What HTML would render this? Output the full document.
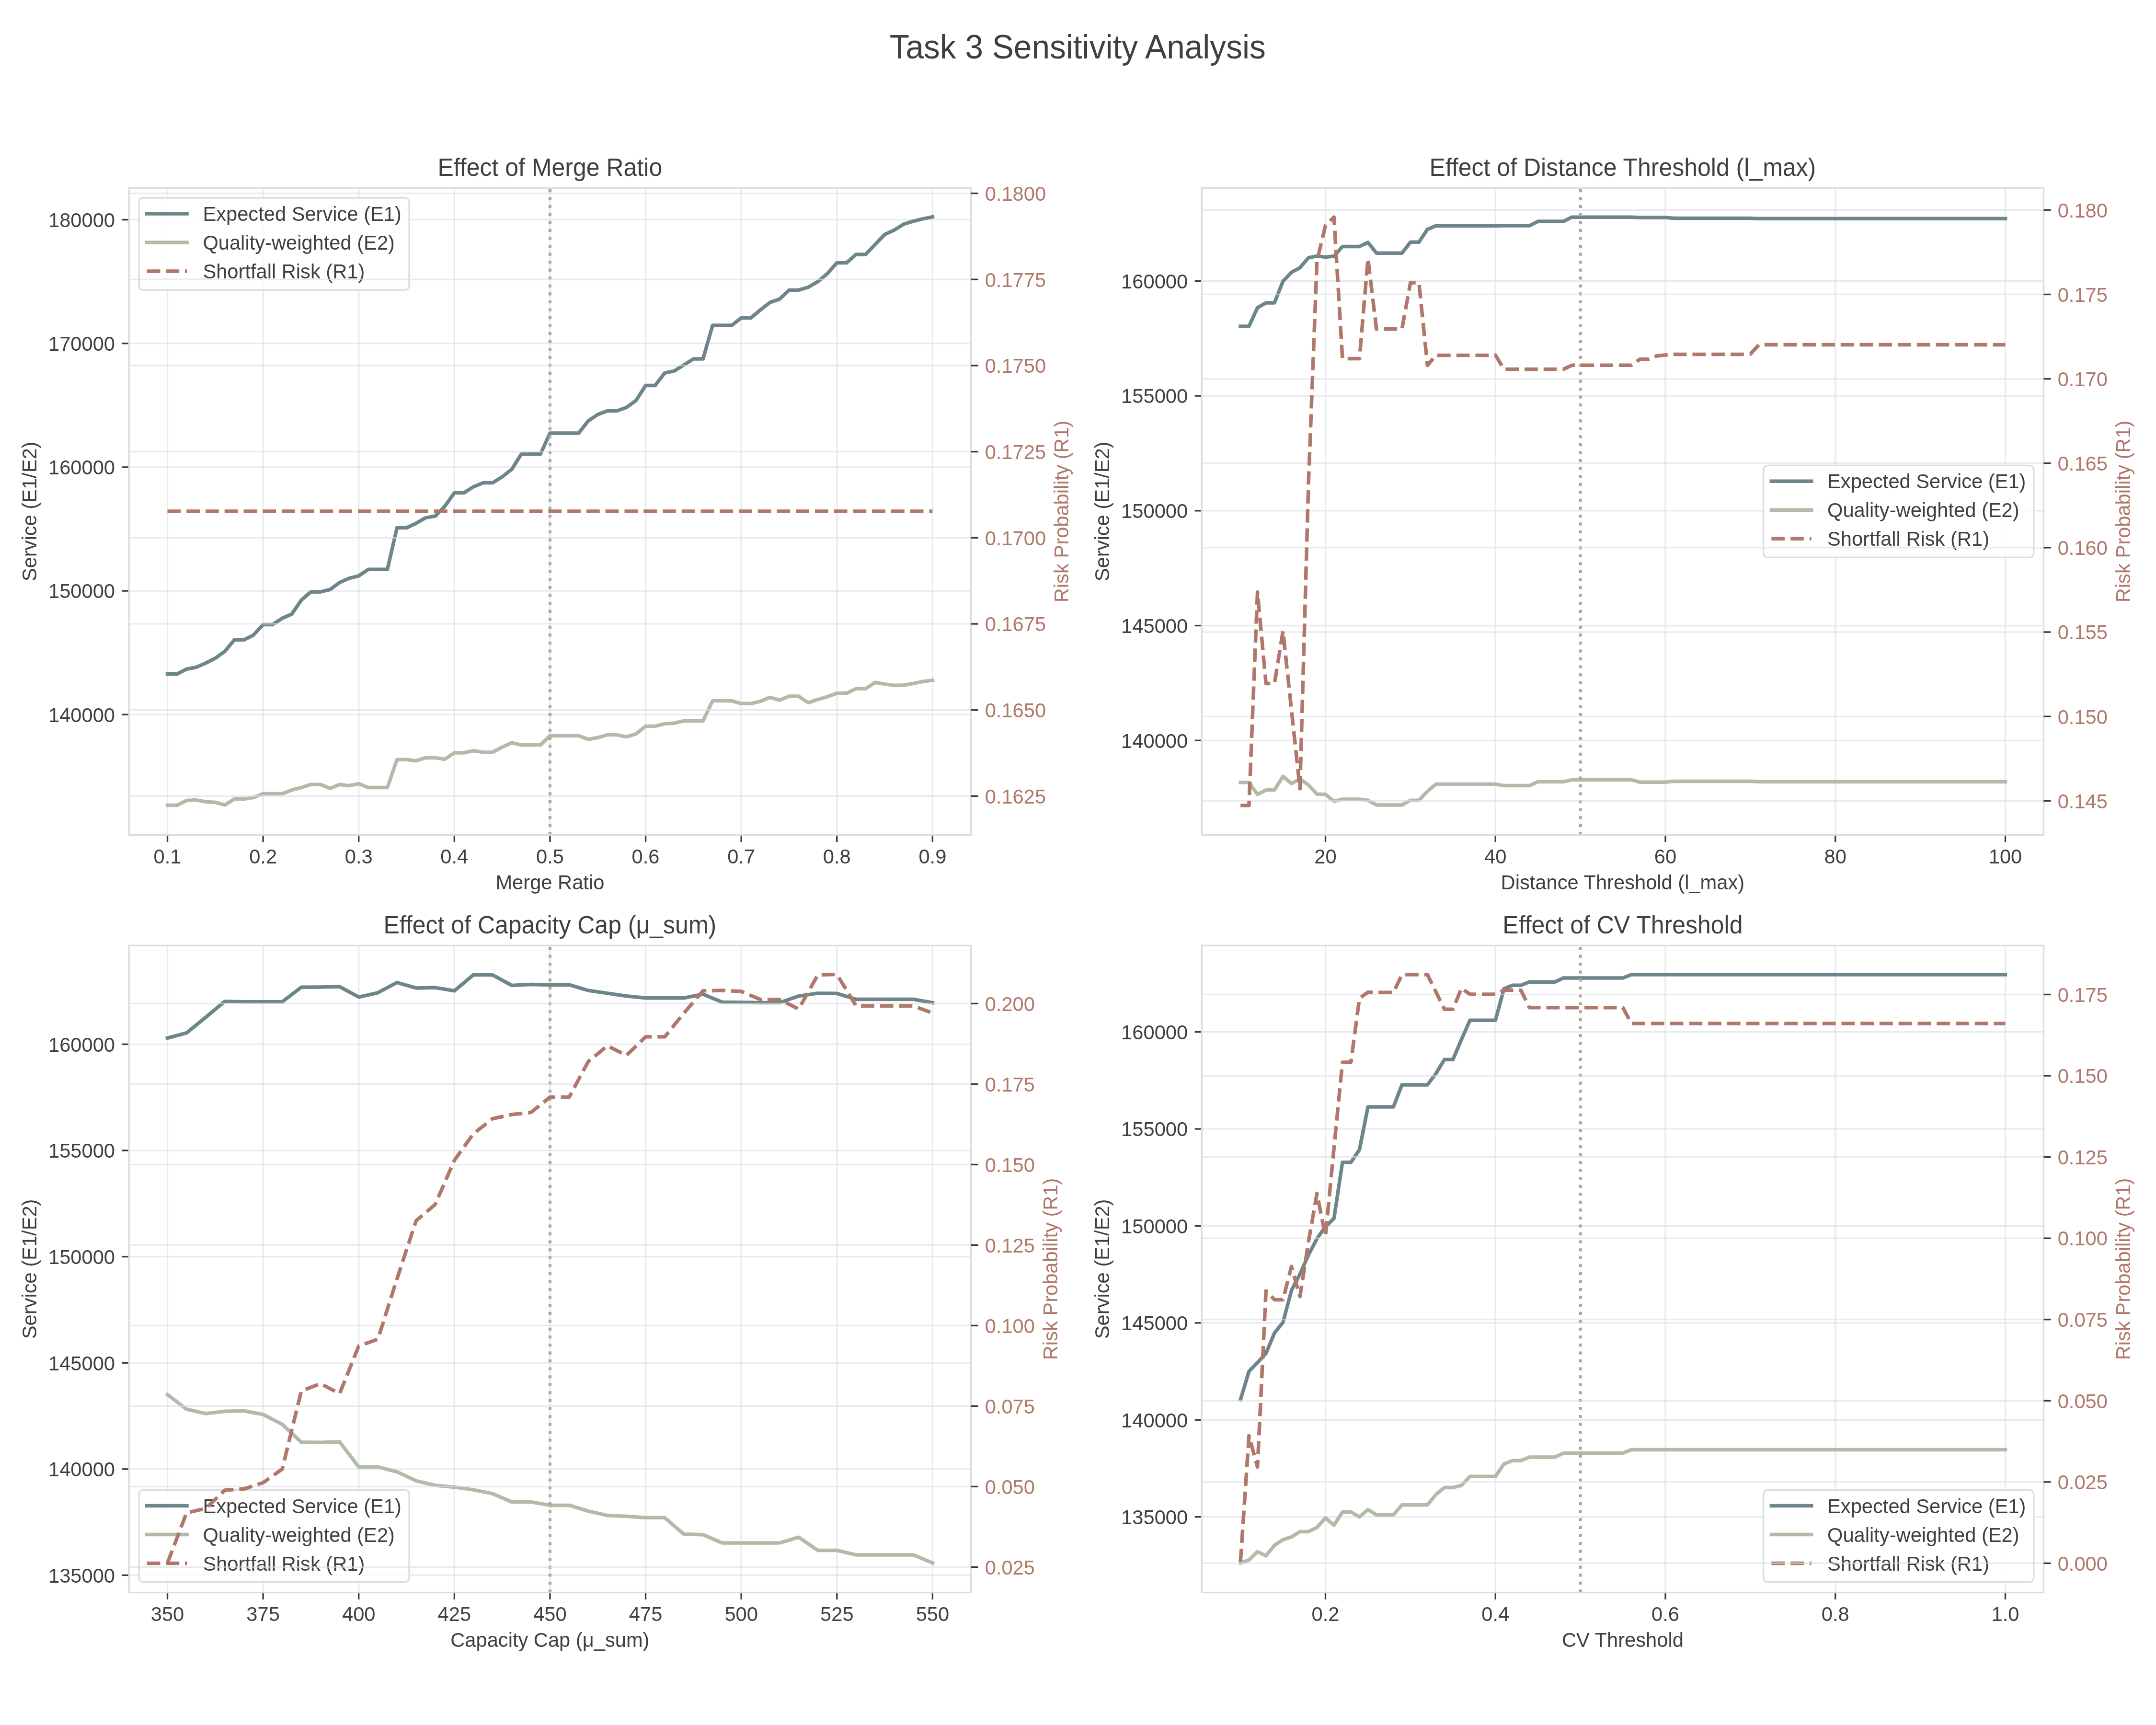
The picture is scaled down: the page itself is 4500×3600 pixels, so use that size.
<!DOCTYPE html>
<html><head><meta charset="utf-8"><style>html,body{margin:0;padding:0;background:#fff;}svg{display:block;will-change:transform;}</style></head><body>
<svg width="4500" height="3600" viewBox="0 0 4500 3600" font-family='"Liberation Sans", sans-serif'>
<rect width="4500" height="3600" fill="#ffffff"/>
<text transform="translate(2249.2,122) scale(1,1.04)" font-size="67.6" fill="#3f3f3f" text-anchor="middle">Task 3 Sensitivity Analysis</text>
<line x1="349.5" y1="392.2" x2="349.5" y2="1742.6" stroke="#D9DDE2" stroke-width="3.2" stroke-opacity="0.6"/>
<line x1="549.11" y1="392.2" x2="549.11" y2="1742.6" stroke="#D9DDE2" stroke-width="3.2" stroke-opacity="0.6"/>
<line x1="748.72" y1="392.2" x2="748.72" y2="1742.6" stroke="#D9DDE2" stroke-width="3.2" stroke-opacity="0.6"/>
<line x1="948.33" y1="392.2" x2="948.33" y2="1742.6" stroke="#D9DDE2" stroke-width="3.2" stroke-opacity="0.6"/>
<line x1="1147.94" y1="392.2" x2="1147.94" y2="1742.6" stroke="#D9DDE2" stroke-width="3.2" stroke-opacity="0.6"/>
<line x1="1347.55" y1="392.2" x2="1347.55" y2="1742.6" stroke="#D9DDE2" stroke-width="3.2" stroke-opacity="0.6"/>
<line x1="1547.16" y1="392.2" x2="1547.16" y2="1742.6" stroke="#D9DDE2" stroke-width="3.2" stroke-opacity="0.6"/>
<line x1="1746.77" y1="392.2" x2="1746.77" y2="1742.6" stroke="#D9DDE2" stroke-width="3.2" stroke-opacity="0.6"/>
<line x1="1946.38" y1="392.2" x2="1946.38" y2="1742.6" stroke="#D9DDE2" stroke-width="3.2" stroke-opacity="0.6"/>
<line x1="269.2" y1="1491.3" x2="2026.5" y2="1491.3" stroke="#D9DDE2" stroke-width="3.2" stroke-opacity="0.6"/>
<line x1="269.2" y1="1233.1" x2="2026.5" y2="1233.1" stroke="#D9DDE2" stroke-width="3.2" stroke-opacity="0.6"/>
<line x1="269.2" y1="974.9" x2="2026.5" y2="974.9" stroke="#D9DDE2" stroke-width="3.2" stroke-opacity="0.6"/>
<line x1="269.2" y1="716.7" x2="2026.5" y2="716.7" stroke="#D9DDE2" stroke-width="3.2" stroke-opacity="0.6"/>
<line x1="269.2" y1="458.5" x2="2026.5" y2="458.5" stroke="#D9DDE2" stroke-width="3.2" stroke-opacity="0.6"/>
<polyline points="349.5,1406.7 369.46,1406.7 389.42,1396.3 409.38,1392.7 429.34,1383.8 449.31,1373.7 469.27,1359.3 489.23,1335.3 509.19,1335.3 529.15,1325.3 549.11,1303.4 569.07,1303.4 589.03,1290.3 608.99,1281.5 628.95,1252.3 648.91,1235.2 668.88,1235.2 688.84,1230.4 708.8,1215.7 728.76,1206.8 748.72,1201.8 768.68,1188.3 788.64,1188.3 808.6,1188.3 828.56,1101.5 848.52,1101.5 868.49,1092.1 888.45,1080.6 908.41,1077.1 928.37,1056.6 948.33,1028.5 968.29,1028.5 988.25,1015.9 1008.21,1007.6 1028.17,1007.6 1048.14,995.1 1068.1,979.4 1088.06,947.7 1108.02,947.7 1127.98,947.7 1147.94,903.9 1167.9,903.9 1187.86,903.9 1207.82,903.9 1227.78,878.5 1247.75,864.9 1267.71,857.6 1287.67,857.6 1307.63,850.3 1327.59,835.7 1347.55,804.4 1367.51,804.4 1387.47,778.3 1407.43,774.1 1427.39,761.6 1447.36,749.1 1467.32,749.1 1487.28,679.1 1507.24,679.1 1527.2,679.1 1547.16,663.5 1567.12,663.5 1587.08,646.8 1607.04,631.1 1627,624.2 1646.96,605.5 1666.93,605.3 1686.89,599.5 1706.85,587.8 1726.81,571.1 1746.77,548.6 1766.73,548.6 1786.69,531 1806.65,531 1826.61,510.2 1846.57,489.3 1866.54,480.1 1886.5,467.6 1906.46,461.7 1926.42,456.7 1946.38,452.6" fill="none" stroke="#6D8689" stroke-width="7.5" stroke-linejoin="round" stroke-linecap="square"/>
<polyline points="349.5,1680.6 369.46,1680.6 389.42,1670.6 409.38,1669.6 429.34,1673.3 449.31,1674.4 469.27,1680 489.23,1667.5 509.19,1667.5 529.15,1664.4 549.11,1656.4 569.07,1656.4 589.03,1656.4 608.99,1648.7 628.95,1643.5 648.91,1637.2 668.88,1637.2 688.84,1645.2 708.8,1637.2 728.76,1639.7 748.72,1635.6 768.68,1643.6 788.64,1643.6 808.6,1643.6 828.56,1585.2 848.52,1585.2 868.49,1587.7 888.45,1581.4 908.41,1581.4 928.37,1584.5 948.33,1571 968.29,1571 988.25,1566.8 1008.21,1569.9 1028.17,1569.9 1048.14,1559.1 1068.1,1550.1 1088.06,1554.7 1108.02,1554.7 1127.98,1554.7 1147.94,1535.5 1167.9,1535.5 1187.86,1535.5 1207.82,1535.5 1227.78,1543 1247.75,1539.4 1267.71,1533.6 1287.67,1533.6 1307.63,1537.8 1327.59,1531.5 1347.55,1515.4 1367.51,1515.4 1387.47,1510.6 1407.43,1509.2 1427.39,1504.4 1447.36,1504.4 1467.32,1504.4 1487.28,1462.6 1507.24,1462.6 1527.2,1462.6 1547.16,1468.3 1567.12,1468.3 1587.08,1463.7 1607.04,1455.3 1627,1461.2 1646.96,1453 1666.93,1453.1 1686.89,1466.5 1706.85,1459.8 1726.81,1454 1746.77,1446.8 1766.73,1446.8 1786.69,1437.3 1806.65,1437.3 1826.61,1424.2 1846.57,1427.6 1866.54,1430.4 1886.5,1429.8 1906.46,1426.4 1926.42,1422.1 1946.38,1419.7" fill="none" stroke="#B1BBA9" stroke-width="7.5" stroke-linejoin="round" stroke-linecap="square"/>
<line x1="1147.94" y1="1742.6" x2="1147.94" y2="392.2" stroke="#ACA79F" stroke-width="6.25" stroke-dasharray="6.25 10.31"/>
<line x1="349.5" y1="1742.6" x2="349.5" y2="1757.18" stroke="#3a3a3a" stroke-width="3.33"/>
<text transform="translate(349.5,1801.7) scale(1,1.04)" font-size="41.67" fill="#3f3f3f" text-anchor="middle">0.1</text>
<line x1="549.11" y1="1742.6" x2="549.11" y2="1757.18" stroke="#3a3a3a" stroke-width="3.33"/>
<text transform="translate(549.11,1801.7) scale(1,1.04)" font-size="41.67" fill="#3f3f3f" text-anchor="middle">0.2</text>
<line x1="748.72" y1="1742.6" x2="748.72" y2="1757.18" stroke="#3a3a3a" stroke-width="3.33"/>
<text transform="translate(748.72,1801.7) scale(1,1.04)" font-size="41.67" fill="#3f3f3f" text-anchor="middle">0.3</text>
<line x1="948.33" y1="1742.6" x2="948.33" y2="1757.18" stroke="#3a3a3a" stroke-width="3.33"/>
<text transform="translate(948.33,1801.7) scale(1,1.04)" font-size="41.67" fill="#3f3f3f" text-anchor="middle">0.4</text>
<line x1="1147.94" y1="1742.6" x2="1147.94" y2="1757.18" stroke="#3a3a3a" stroke-width="3.33"/>
<text transform="translate(1147.94,1801.7) scale(1,1.04)" font-size="41.67" fill="#3f3f3f" text-anchor="middle">0.5</text>
<line x1="1347.55" y1="1742.6" x2="1347.55" y2="1757.18" stroke="#3a3a3a" stroke-width="3.33"/>
<text transform="translate(1347.55,1801.7) scale(1,1.04)" font-size="41.67" fill="#3f3f3f" text-anchor="middle">0.6</text>
<line x1="1547.16" y1="1742.6" x2="1547.16" y2="1757.18" stroke="#3a3a3a" stroke-width="3.33"/>
<text transform="translate(1547.16,1801.7) scale(1,1.04)" font-size="41.67" fill="#3f3f3f" text-anchor="middle">0.7</text>
<line x1="1746.77" y1="1742.6" x2="1746.77" y2="1757.18" stroke="#3a3a3a" stroke-width="3.33"/>
<text transform="translate(1746.77,1801.7) scale(1,1.04)" font-size="41.67" fill="#3f3f3f" text-anchor="middle">0.8</text>
<line x1="1946.38" y1="1742.6" x2="1946.38" y2="1757.18" stroke="#3a3a3a" stroke-width="3.33"/>
<text transform="translate(1946.38,1801.7) scale(1,1.04)" font-size="41.67" fill="#3f3f3f" text-anchor="middle">0.9</text>
<line x1="254.62" y1="1491.3" x2="269.2" y2="1491.3" stroke="#3a3a3a" stroke-width="3.33"/>
<text transform="translate(240.04,1506.6) scale(1,1.04)" font-size="41.67" fill="#3f3f3f" text-anchor="end">140000</text>
<line x1="254.62" y1="1233.1" x2="269.2" y2="1233.1" stroke="#3a3a3a" stroke-width="3.33"/>
<text transform="translate(240.04,1248.4) scale(1,1.04)" font-size="41.67" fill="#3f3f3f" text-anchor="end">150000</text>
<line x1="254.62" y1="974.9" x2="269.2" y2="974.9" stroke="#3a3a3a" stroke-width="3.33"/>
<text transform="translate(240.04,990.2) scale(1,1.04)" font-size="41.67" fill="#3f3f3f" text-anchor="end">160000</text>
<line x1="254.62" y1="716.7" x2="269.2" y2="716.7" stroke="#3a3a3a" stroke-width="3.33"/>
<text transform="translate(240.04,732) scale(1,1.04)" font-size="41.67" fill="#3f3f3f" text-anchor="end">170000</text>
<line x1="254.62" y1="458.5" x2="269.2" y2="458.5" stroke="#3a3a3a" stroke-width="3.33"/>
<text transform="translate(240.04,473.8) scale(1,1.04)" font-size="41.67" fill="#3f3f3f" text-anchor="end">180000</text>
<text transform="translate(1147.85,1855.7) scale(1,1.04)" font-size="41.67" fill="#3f3f3f" text-anchor="middle">Merge Ratio</text>
<text transform="translate(75.9,1067.4) rotate(-90) scale(1,1.04)" font-size="41.67" fill="#3f3f3f" text-anchor="middle">Service (E1/E2)</text>
<text transform="translate(2229.74,1067.4) rotate(-90) scale(1,1.04)" font-size="41.67" fill="#B0786A" text-anchor="middle">Risk Probability (R1)</text>
<text transform="translate(1147.85,366.8) scale(1,1.04)" font-size="50" fill="#3f3f3f" text-anchor="middle">Effect of Merge Ratio</text>
<rect x="290.05" y="413" width="564" height="192" rx="8.33" ry="8.33" fill="#ffffff" fill-opacity="0.8" stroke="#D9DDE2" stroke-width="3.33"/>
<polyline points="306.72,445.9 390.05,445.9" fill="none" stroke="#6D8689" stroke-width="7.5" stroke-linejoin="round" stroke-linecap="square"/>
<text transform="translate(423.38,460.9) scale(1,1.04)" font-size="41.67" fill="#3f3f3f" text-anchor="start">Expected Service (E1)</text>
<polyline points="306.72,505.9 390.05,505.9" fill="none" stroke="#B1BBA9" stroke-width="7.5" stroke-linejoin="round" stroke-linecap="square"/>
<text transform="translate(423.38,520.9) scale(1,1.04)" font-size="41.67" fill="#3f3f3f" text-anchor="start">Quality-weighted (E2)</text>
<polyline points="306.72,565.9 390.05,565.9" fill="none" stroke="#B0786A" stroke-width="7.5" stroke-linejoin="round" stroke-linecap="butt" stroke-dasharray="27.75 12"/>
<text transform="translate(423.38,580.9) scale(1,1.04)" font-size="41.67" fill="#3f3f3f" text-anchor="start">Shortfall Risk (R1)</text>
<line x1="269.2" y1="1661.4" x2="2026.5" y2="1661.4" stroke="#D9DDE2" stroke-width="3.2" stroke-opacity="0.6"/>
<line x1="269.2" y1="1481.7" x2="2026.5" y2="1481.7" stroke="#D9DDE2" stroke-width="3.2" stroke-opacity="0.6"/>
<line x1="269.2" y1="1302" x2="2026.5" y2="1302" stroke="#D9DDE2" stroke-width="3.2" stroke-opacity="0.6"/>
<line x1="269.2" y1="1122.3" x2="2026.5" y2="1122.3" stroke="#D9DDE2" stroke-width="3.2" stroke-opacity="0.6"/>
<line x1="269.2" y1="942.6" x2="2026.5" y2="942.6" stroke="#D9DDE2" stroke-width="3.2" stroke-opacity="0.6"/>
<line x1="269.2" y1="762.9" x2="2026.5" y2="762.9" stroke="#D9DDE2" stroke-width="3.2" stroke-opacity="0.6"/>
<line x1="269.2" y1="583.2" x2="2026.5" y2="583.2" stroke="#D9DDE2" stroke-width="3.2" stroke-opacity="0.6"/>
<line x1="269.2" y1="403.5" x2="2026.5" y2="403.5" stroke="#D9DDE2" stroke-width="3.2" stroke-opacity="0.6"/>
<polyline points="349.5,1067.1 369.46,1067.1 389.42,1067.1 409.38,1067.1 429.34,1067.1 449.31,1067.1 469.27,1067.1 489.23,1067.1 509.19,1067.1 529.15,1067.1 549.11,1067.1 569.07,1067.1 589.03,1067.1 608.99,1067.1 628.95,1067.1 648.91,1067.1 668.88,1067.1 688.84,1067.1 708.8,1067.1 728.76,1067.1 748.72,1067.1 768.68,1067.1 788.64,1067.1 808.6,1067.1 828.56,1067.1 848.52,1067.1 868.49,1067.1 888.45,1067.1 908.41,1067.1 928.37,1067.1 948.33,1067.1 968.29,1067.1 988.25,1067.1 1008.21,1067.1 1028.17,1067.1 1048.14,1067.1 1068.1,1067.1 1088.06,1067.1 1108.02,1067.1 1127.98,1067.1 1147.94,1067.1 1167.9,1067.1 1187.86,1067.1 1207.82,1067.1 1227.78,1067.1 1247.75,1067.1 1267.71,1067.1 1287.67,1067.1 1307.63,1067.1 1327.59,1067.1 1347.55,1067.1 1367.51,1067.1 1387.47,1067.1 1407.43,1067.1 1427.39,1067.1 1447.36,1067.1 1467.32,1067.1 1487.28,1067.1 1507.24,1067.1 1527.2,1067.1 1547.16,1067.1 1567.12,1067.1 1587.08,1067.1 1607.04,1067.1 1627,1067.1 1646.96,1067.1 1666.93,1067.1 1686.89,1067.1 1706.85,1067.1 1726.81,1067.1 1746.77,1067.1 1766.73,1067.1 1786.69,1067.1 1806.65,1067.1 1826.61,1067.1 1846.57,1067.1 1866.54,1067.1 1886.5,1067.1 1906.46,1067.1 1926.42,1067.1 1946.38,1067.1" fill="none" stroke="#B0786A" stroke-width="7.5" stroke-linejoin="round" stroke-linecap="butt" stroke-dasharray="27.75 12"/>
<rect x="269.2" y="392.2" width="1757.3" height="1350.4" fill="none" stroke="#D9DDE2" stroke-width="3.33"/>
<line x1="2026.5" y1="1661.4" x2="2041.58" y2="1661.4" stroke="#3a3a3a" stroke-width="3.33"/>
<text transform="translate(2055.66,1676.7) scale(1,1.04)" font-size="41.67" fill="#B0786A" text-anchor="start">0.1625</text>
<line x1="2026.5" y1="1481.7" x2="2041.58" y2="1481.7" stroke="#3a3a3a" stroke-width="3.33"/>
<text transform="translate(2055.66,1497) scale(1,1.04)" font-size="41.67" fill="#B0786A" text-anchor="start">0.1650</text>
<line x1="2026.5" y1="1302" x2="2041.58" y2="1302" stroke="#3a3a3a" stroke-width="3.33"/>
<text transform="translate(2055.66,1317.3) scale(1,1.04)" font-size="41.67" fill="#B0786A" text-anchor="start">0.1675</text>
<line x1="2026.5" y1="1122.3" x2="2041.58" y2="1122.3" stroke="#3a3a3a" stroke-width="3.33"/>
<text transform="translate(2055.66,1137.6) scale(1,1.04)" font-size="41.67" fill="#B0786A" text-anchor="start">0.1700</text>
<line x1="2026.5" y1="942.6" x2="2041.58" y2="942.6" stroke="#3a3a3a" stroke-width="3.33"/>
<text transform="translate(2055.66,957.9) scale(1,1.04)" font-size="41.67" fill="#B0786A" text-anchor="start">0.1725</text>
<line x1="2026.5" y1="762.9" x2="2041.58" y2="762.9" stroke="#3a3a3a" stroke-width="3.33"/>
<text transform="translate(2055.66,778.2) scale(1,1.04)" font-size="41.67" fill="#B0786A" text-anchor="start">0.1750</text>
<line x1="2026.5" y1="583.2" x2="2041.58" y2="583.2" stroke="#3a3a3a" stroke-width="3.33"/>
<text transform="translate(2055.66,598.5) scale(1,1.04)" font-size="41.67" fill="#B0786A" text-anchor="start">0.1775</text>
<line x1="2026.5" y1="403.5" x2="2041.58" y2="403.5" stroke="#3a3a3a" stroke-width="3.33"/>
<text transform="translate(2055.66,418.8) scale(1,1.04)" font-size="41.67" fill="#B0786A" text-anchor="start">0.1800</text>
<line x1="2766.5" y1="392.2" x2="2766.5" y2="1742.6" stroke="#D9DDE2" stroke-width="3.2" stroke-opacity="0.6"/>
<line x1="3121.25" y1="392.2" x2="3121.25" y2="1742.6" stroke="#D9DDE2" stroke-width="3.2" stroke-opacity="0.6"/>
<line x1="3476" y1="392.2" x2="3476" y2="1742.6" stroke="#D9DDE2" stroke-width="3.2" stroke-opacity="0.6"/>
<line x1="3830.75" y1="392.2" x2="3830.75" y2="1742.6" stroke="#D9DDE2" stroke-width="3.2" stroke-opacity="0.6"/>
<line x1="4185.5" y1="392.2" x2="4185.5" y2="1742.6" stroke="#D9DDE2" stroke-width="3.2" stroke-opacity="0.6"/>
<line x1="2508.3" y1="1545.3" x2="4265.5" y2="1545.3" stroke="#D9DDE2" stroke-width="3.2" stroke-opacity="0.6"/>
<line x1="2508.3" y1="1305.57" x2="4265.5" y2="1305.57" stroke="#D9DDE2" stroke-width="3.2" stroke-opacity="0.6"/>
<line x1="2508.3" y1="1065.85" x2="4265.5" y2="1065.85" stroke="#D9DDE2" stroke-width="3.2" stroke-opacity="0.6"/>
<line x1="2508.3" y1="826.12" x2="4265.5" y2="826.12" stroke="#D9DDE2" stroke-width="3.2" stroke-opacity="0.6"/>
<line x1="2508.3" y1="586.4" x2="4265.5" y2="586.4" stroke="#D9DDE2" stroke-width="3.2" stroke-opacity="0.6"/>
<polyline points="2589.12,680.9 2606.86,680.9 2624.6,642.3 2642.34,631.9 2660.07,631.9 2677.81,587 2695.55,568.2 2713.29,558.8 2731.03,537.9 2748.76,534.4 2766.5,536.5 2784.24,534.8 2801.97,514.5 2819.71,514.5 2837.45,514.5 2855.19,505.8 2872.93,528.3 2890.66,528.3 2908.4,528.3 2926.14,528.3 2943.88,505.3 2961.61,505.3 2979.35,478.7 2997.09,471.2 3014.82,471.2 3032.56,471.2 3050.3,471.2 3068.04,471.2 3085.78,471.2 3103.51,471.2 3121.25,471.3 3138.99,471 3156.72,471 3174.46,471 3192.2,471 3209.94,462.1 3227.68,462.1 3245.41,462.1 3263.15,462.1 3280.89,453.2 3298.62,453.2 3316.36,453.2 3334.1,453.2 3351.84,453.2 3369.57,453.2 3387.31,453.2 3405.05,453.2 3422.79,453.9 3440.53,453.9 3458.26,453.9 3476,453.9 3493.74,455.5 3511.47,455.5 3529.21,455.5 3546.95,455.5 3564.69,455.5 3582.43,455.5 3600.16,455.5 3617.9,455.5 3635.64,455.5 3653.38,455.5 3671.11,456.2 3688.85,456.2 3706.59,456.2 3724.32,456.2 3742.06,456.2 3759.8,456.2 3777.54,456.2 3795.28,456.2 3813.01,456.2 3830.75,456.2 3848.49,456.2 3866.23,456.2 3883.96,456.2 3901.7,456.2 3919.44,456.2 3937.18,456.2 3954.91,456.2 3972.65,456.2 3990.39,456.2 4008.12,456.2 4025.86,456.2 4043.6,456.2 4061.34,456.2 4079.07,456.2 4096.81,456.2 4114.55,456.2 4132.29,456.2 4150.02,456.2 4167.76,456.2 4185.5,456.2" fill="none" stroke="#6D8689" stroke-width="7.5" stroke-linejoin="round" stroke-linecap="square"/>
<polyline points="2589.12,1633.1 2606.86,1633.1 2624.6,1657.8 2642.34,1648.8 2660.07,1648.8 2677.81,1620.2 2695.55,1635.2 2713.29,1625.6 2731.03,1638.2 2748.76,1657.2 2766.5,1657.7 2784.24,1672.2 2801.97,1667.9 2819.71,1667.9 2837.45,1667.9 2855.19,1670.2 2872.93,1679.9 2890.66,1679.9 2908.4,1679.9 2926.14,1679.9 2943.88,1670.2 2961.61,1670.2 2979.35,1651.3 2997.09,1636.5 3014.82,1636.5 3032.56,1636.5 3050.3,1636.5 3068.04,1636.5 3085.78,1636.5 3103.51,1636.5 3121.25,1636.5 3138.99,1639.6 3156.72,1639.6 3174.46,1639.6 3192.2,1639.6 3209.94,1631.4 3227.68,1631.4 3245.41,1631.4 3263.15,1631.4 3280.89,1627.6 3298.62,1627.4 3316.36,1627.4 3334.1,1627.4 3351.84,1627.4 3369.57,1627.4 3387.31,1627.4 3405.05,1627.4 3422.79,1632.3 3440.53,1632.3 3458.26,1632.3 3476,1632.3 3493.74,1630.5 3511.47,1630.5 3529.21,1630.5 3546.95,1630.5 3564.69,1630.5 3582.43,1630.5 3600.16,1630.5 3617.9,1630.5 3635.64,1630.5 3653.38,1630.5 3671.11,1631.5 3688.85,1631.5 3706.59,1631.5 3724.32,1631.5 3742.06,1631.5 3759.8,1631.5 3777.54,1631.5 3795.28,1631.5 3813.01,1631.5 3830.75,1631.5 3848.49,1631.5 3866.23,1631.5 3883.96,1631.5 3901.7,1631.5 3919.44,1631.5 3937.18,1631.5 3954.91,1631.5 3972.65,1631.5 3990.39,1631.5 4008.12,1631.5 4025.86,1631.5 4043.6,1631.5 4061.34,1631.5 4079.07,1631.5 4096.81,1631.5 4114.55,1631.5 4132.29,1631.5 4150.02,1631.5 4167.76,1631.5 4185.5,1631.5" fill="none" stroke="#B1BBA9" stroke-width="7.5" stroke-linejoin="round" stroke-linecap="square"/>
<line x1="3298.62" y1="1742.6" x2="3298.62" y2="392.2" stroke="#ACA79F" stroke-width="6.25" stroke-dasharray="6.25 10.31"/>
<line x1="2766.5" y1="1742.6" x2="2766.5" y2="1757.18" stroke="#3a3a3a" stroke-width="3.33"/>
<text transform="translate(2766.5,1801.7) scale(1,1.04)" font-size="41.67" fill="#3f3f3f" text-anchor="middle">20</text>
<line x1="3121.25" y1="1742.6" x2="3121.25" y2="1757.18" stroke="#3a3a3a" stroke-width="3.33"/>
<text transform="translate(3121.25,1801.7) scale(1,1.04)" font-size="41.67" fill="#3f3f3f" text-anchor="middle">40</text>
<line x1="3476" y1="1742.6" x2="3476" y2="1757.18" stroke="#3a3a3a" stroke-width="3.33"/>
<text transform="translate(3476,1801.7) scale(1,1.04)" font-size="41.67" fill="#3f3f3f" text-anchor="middle">60</text>
<line x1="3830.75" y1="1742.6" x2="3830.75" y2="1757.18" stroke="#3a3a3a" stroke-width="3.33"/>
<text transform="translate(3830.75,1801.7) scale(1,1.04)" font-size="41.67" fill="#3f3f3f" text-anchor="middle">80</text>
<line x1="4185.5" y1="1742.6" x2="4185.5" y2="1757.18" stroke="#3a3a3a" stroke-width="3.33"/>
<text transform="translate(4185.5,1801.7) scale(1,1.04)" font-size="41.67" fill="#3f3f3f" text-anchor="middle">100</text>
<line x1="2493.72" y1="1545.3" x2="2508.3" y2="1545.3" stroke="#3a3a3a" stroke-width="3.33"/>
<text transform="translate(2479.14,1560.6) scale(1,1.04)" font-size="41.67" fill="#3f3f3f" text-anchor="end">140000</text>
<line x1="2493.72" y1="1305.57" x2="2508.3" y2="1305.57" stroke="#3a3a3a" stroke-width="3.33"/>
<text transform="translate(2479.14,1320.87) scale(1,1.04)" font-size="41.67" fill="#3f3f3f" text-anchor="end">145000</text>
<line x1="2493.72" y1="1065.85" x2="2508.3" y2="1065.85" stroke="#3a3a3a" stroke-width="3.33"/>
<text transform="translate(2479.14,1081.15) scale(1,1.04)" font-size="41.67" fill="#3f3f3f" text-anchor="end">150000</text>
<line x1="2493.72" y1="826.12" x2="2508.3" y2="826.12" stroke="#3a3a3a" stroke-width="3.33"/>
<text transform="translate(2479.14,841.42) scale(1,1.04)" font-size="41.67" fill="#3f3f3f" text-anchor="end">155000</text>
<line x1="2493.72" y1="586.4" x2="2508.3" y2="586.4" stroke="#3a3a3a" stroke-width="3.33"/>
<text transform="translate(2479.14,601.7) scale(1,1.04)" font-size="41.67" fill="#3f3f3f" text-anchor="end">160000</text>
<text transform="translate(3386.9,1855.7) scale(1,1.04)" font-size="41.67" fill="#3f3f3f" text-anchor="middle">Distance Threshold (l_max)</text>
<text transform="translate(2315,1067.4) rotate(-90) scale(1,1.04)" font-size="41.67" fill="#3f3f3f" text-anchor="middle">Service (E1/E2)</text>
<text transform="translate(4445.59,1067.4) rotate(-90) scale(1,1.04)" font-size="41.67" fill="#B0786A" text-anchor="middle">Risk Probability (R1)</text>
<text transform="translate(3386.9,366.8) scale(1,1.04)" font-size="50" fill="#3f3f3f" text-anchor="middle">Effect of Distance Threshold (l_max)</text>
<rect x="3680.7" y="971.4" width="564" height="192" rx="8.33" ry="8.33" fill="#ffffff" fill-opacity="0.8" stroke="#D9DDE2" stroke-width="3.33"/>
<polyline points="3697.37,1004.3 3780.7,1004.3" fill="none" stroke="#6D8689" stroke-width="7.5" stroke-linejoin="round" stroke-linecap="square"/>
<text transform="translate(3814.03,1019.3) scale(1,1.04)" font-size="41.67" fill="#3f3f3f" text-anchor="start">Expected Service (E1)</text>
<polyline points="3697.37,1064.3 3780.7,1064.3" fill="none" stroke="#B1BBA9" stroke-width="7.5" stroke-linejoin="round" stroke-linecap="square"/>
<text transform="translate(3814.03,1079.3) scale(1,1.04)" font-size="41.67" fill="#3f3f3f" text-anchor="start">Quality-weighted (E2)</text>
<polyline points="3697.37,1124.3 3780.7,1124.3" fill="none" stroke="#B0786A" stroke-width="7.5" stroke-linejoin="round" stroke-linecap="butt" stroke-dasharray="27.75 12"/>
<text transform="translate(3814.03,1139.3) scale(1,1.04)" font-size="41.67" fill="#3f3f3f" text-anchor="start">Shortfall Risk (R1)</text>
<line x1="2508.3" y1="1671.4" x2="4265.5" y2="1671.4" stroke="#D9DDE2" stroke-width="3.2" stroke-opacity="0.6"/>
<line x1="2508.3" y1="1495.24" x2="4265.5" y2="1495.24" stroke="#D9DDE2" stroke-width="3.2" stroke-opacity="0.6"/>
<line x1="2508.3" y1="1319.09" x2="4265.5" y2="1319.09" stroke="#D9DDE2" stroke-width="3.2" stroke-opacity="0.6"/>
<line x1="2508.3" y1="1142.93" x2="4265.5" y2="1142.93" stroke="#D9DDE2" stroke-width="3.2" stroke-opacity="0.6"/>
<line x1="2508.3" y1="966.77" x2="4265.5" y2="966.77" stroke="#D9DDE2" stroke-width="3.2" stroke-opacity="0.6"/>
<line x1="2508.3" y1="790.61" x2="4265.5" y2="790.61" stroke="#D9DDE2" stroke-width="3.2" stroke-opacity="0.6"/>
<line x1="2508.3" y1="614.46" x2="4265.5" y2="614.46" stroke="#D9DDE2" stroke-width="3.2" stroke-opacity="0.6"/>
<line x1="2508.3" y1="438.3" x2="4265.5" y2="438.3" stroke="#D9DDE2" stroke-width="3.2" stroke-opacity="0.6"/>
<polyline points="2589.12,1681 2606.86,1681 2624.6,1235.8 2642.34,1426.5 2660.07,1426.5 2677.81,1317 2695.55,1481.5 2713.29,1645.8 2731.03,1010 2748.76,544.4 2766.5,470.9 2784.24,453.2 2801.97,748.5 2819.71,748.5 2837.45,748.5 2855.19,539.8 2872.93,686.7 2890.66,686.7 2908.4,686.7 2926.14,686.7 2943.88,589.9 2961.61,589.9 2979.35,762.5 2997.09,741.6 3014.82,741.6 3032.56,741.6 3050.3,741.6 3068.04,741.6 3085.78,741.6 3103.51,741.6 3121.25,741 3138.99,770.5 3156.72,770.5 3174.46,770.5 3192.2,770.5 3209.94,770.5 3227.68,770.5 3245.41,770.5 3263.15,770.5 3280.89,762.3 3298.62,762.3 3316.36,762.3 3334.1,762.3 3351.84,762.3 3369.57,762.3 3387.31,762.3 3405.05,762.3 3422.79,749.6 3440.53,749.6 3458.26,742.7 3476,740.9 3493.74,739.4 3511.47,739.4 3529.21,739.4 3546.95,739.4 3564.69,739.4 3582.43,739.4 3600.16,739.4 3617.9,739.4 3635.64,739.4 3653.38,739 3671.11,719.4 3688.85,719.4 3706.59,719.4 3724.32,719.4 3742.06,719.4 3759.8,719.4 3777.54,719.4 3795.28,719.4 3813.01,719.4 3830.75,719.4 3848.49,719.4 3866.23,719.4 3883.96,719.4 3901.7,719.4 3919.44,719.4 3937.18,719.4 3954.91,719.4 3972.65,719.4 3990.39,719.4 4008.12,719.4 4025.86,719.4 4043.6,719.4 4061.34,719.4 4079.07,719.4 4096.81,719.4 4114.55,719.4 4132.29,719.4 4150.02,719.4 4167.76,719.4 4185.5,719.4" fill="none" stroke="#B0786A" stroke-width="7.5" stroke-linejoin="round" stroke-linecap="butt" stroke-dasharray="27.75 12"/>
<rect x="2508.3" y="392.2" width="1757.2" height="1350.4" fill="none" stroke="#D9DDE2" stroke-width="3.33"/>
<line x1="4265.5" y1="1671.4" x2="4280.58" y2="1671.4" stroke="#3a3a3a" stroke-width="3.33"/>
<text transform="translate(4294.66,1686.7) scale(1,1.04)" font-size="41.67" fill="#B0786A" text-anchor="start">0.145</text>
<line x1="4265.5" y1="1495.24" x2="4280.58" y2="1495.24" stroke="#3a3a3a" stroke-width="3.33"/>
<text transform="translate(4294.66,1510.54) scale(1,1.04)" font-size="41.67" fill="#B0786A" text-anchor="start">0.150</text>
<line x1="4265.5" y1="1319.09" x2="4280.58" y2="1319.09" stroke="#3a3a3a" stroke-width="3.33"/>
<text transform="translate(4294.66,1334.39) scale(1,1.04)" font-size="41.67" fill="#B0786A" text-anchor="start">0.155</text>
<line x1="4265.5" y1="1142.93" x2="4280.58" y2="1142.93" stroke="#3a3a3a" stroke-width="3.33"/>
<text transform="translate(4294.66,1158.23) scale(1,1.04)" font-size="41.67" fill="#B0786A" text-anchor="start">0.160</text>
<line x1="4265.5" y1="966.77" x2="4280.58" y2="966.77" stroke="#3a3a3a" stroke-width="3.33"/>
<text transform="translate(4294.66,982.07) scale(1,1.04)" font-size="41.67" fill="#B0786A" text-anchor="start">0.165</text>
<line x1="4265.5" y1="790.61" x2="4280.58" y2="790.61" stroke="#3a3a3a" stroke-width="3.33"/>
<text transform="translate(4294.66,805.91) scale(1,1.04)" font-size="41.67" fill="#B0786A" text-anchor="start">0.170</text>
<line x1="4265.5" y1="614.46" x2="4280.58" y2="614.46" stroke="#3a3a3a" stroke-width="3.33"/>
<text transform="translate(4294.66,629.76) scale(1,1.04)" font-size="41.67" fill="#B0786A" text-anchor="start">0.175</text>
<line x1="4265.5" y1="438.3" x2="4280.58" y2="438.3" stroke="#3a3a3a" stroke-width="3.33"/>
<text transform="translate(4294.66,453.6) scale(1,1.04)" font-size="41.67" fill="#B0786A" text-anchor="start">0.180</text>
<line x1="349.5" y1="1973.3" x2="349.5" y2="3323.5" stroke="#D9DDE2" stroke-width="3.2" stroke-opacity="0.6"/>
<line x1="549.11" y1="1973.3" x2="549.11" y2="3323.5" stroke="#D9DDE2" stroke-width="3.2" stroke-opacity="0.6"/>
<line x1="748.72" y1="1973.3" x2="748.72" y2="3323.5" stroke="#D9DDE2" stroke-width="3.2" stroke-opacity="0.6"/>
<line x1="948.34" y1="1973.3" x2="948.34" y2="3323.5" stroke="#D9DDE2" stroke-width="3.2" stroke-opacity="0.6"/>
<line x1="1147.95" y1="1973.3" x2="1147.95" y2="3323.5" stroke="#D9DDE2" stroke-width="3.2" stroke-opacity="0.6"/>
<line x1="1347.56" y1="1973.3" x2="1347.56" y2="3323.5" stroke="#D9DDE2" stroke-width="3.2" stroke-opacity="0.6"/>
<line x1="1547.17" y1="1973.3" x2="1547.17" y2="3323.5" stroke="#D9DDE2" stroke-width="3.2" stroke-opacity="0.6"/>
<line x1="1746.79" y1="1973.3" x2="1746.79" y2="3323.5" stroke="#D9DDE2" stroke-width="3.2" stroke-opacity="0.6"/>
<line x1="1946.4" y1="1973.3" x2="1946.4" y2="3323.5" stroke="#D9DDE2" stroke-width="3.2" stroke-opacity="0.6"/>
<line x1="269.2" y1="3287.4" x2="2026.5" y2="3287.4" stroke="#D9DDE2" stroke-width="3.2" stroke-opacity="0.6"/>
<line x1="269.2" y1="3065.8" x2="2026.5" y2="3065.8" stroke="#D9DDE2" stroke-width="3.2" stroke-opacity="0.6"/>
<line x1="269.2" y1="2844.2" x2="2026.5" y2="2844.2" stroke="#D9DDE2" stroke-width="3.2" stroke-opacity="0.6"/>
<line x1="269.2" y1="2622.6" x2="2026.5" y2="2622.6" stroke="#D9DDE2" stroke-width="3.2" stroke-opacity="0.6"/>
<line x1="269.2" y1="2401" x2="2026.5" y2="2401" stroke="#D9DDE2" stroke-width="3.2" stroke-opacity="0.6"/>
<line x1="269.2" y1="2179.4" x2="2026.5" y2="2179.4" stroke="#D9DDE2" stroke-width="3.2" stroke-opacity="0.6"/>
<polyline points="349.5,2166.4 389.42,2155.7 429.35,2123 469.27,2089.9 509.19,2090.7 549.11,2090.7 589.03,2090.7 628.96,2060.3 668.88,2059.9 708.8,2059.1 748.72,2080.8 788.65,2071.8 828.57,2050.5 868.49,2061.9 908.41,2061.1 948.34,2067.8 988.26,2034.3 1028.18,2034.7 1068.11,2056.4 1108.03,2054.4 1147.95,2055.6 1187.87,2055.2 1227.8,2067 1267.72,2072.9 1307.64,2078.8 1347.56,2082.8 1387.48,2082.8 1427.41,2082.8 1467.33,2074.9 1507.25,2091.5 1547.17,2091.9 1587.1,2092.6 1627.02,2092.6 1666.94,2078.8 1706.87,2072.9 1746.79,2073.3 1786.71,2085.5 1826.63,2085.5 1866.55,2085.5 1906.48,2085.5 1946.4,2092.6" fill="none" stroke="#6D8689" stroke-width="7.5" stroke-linejoin="round" stroke-linecap="square"/>
<polyline points="349.5,2910.4 389.42,2940.9 429.35,2950.1 469.27,2945.3 509.19,2944.5 549.11,2951.8 589.03,2972.5 628.96,3009.8 668.88,3010.3 708.8,3009 748.72,3061.4 788.65,3061.4 828.57,3071.6 868.49,3090.3 908.41,3100 948.34,3103.4 988.26,3109.1 1028.18,3117.2 1068.11,3134.5 1108.03,3134.5 1147.95,3141.4 1187.87,3141.4 1227.8,3153.6 1267.72,3162.7 1307.64,3164.5 1347.56,3167.3 1387.48,3167.3 1427.41,3201.8 1467.33,3202.7 1507.25,3220 1547.17,3220 1587.1,3220 1627.02,3220 1666.94,3208.2 1706.87,3235.5 1746.79,3235.5 1786.71,3245 1826.63,3245 1866.55,3245 1906.48,3245 1946.4,3261.8" fill="none" stroke="#B1BBA9" stroke-width="7.5" stroke-linejoin="round" stroke-linecap="square"/>
<line x1="1147.95" y1="3323.5" x2="1147.95" y2="1973.3" stroke="#ACA79F" stroke-width="6.25" stroke-dasharray="6.25 10.31"/>
<line x1="349.5" y1="3323.5" x2="349.5" y2="3338.08" stroke="#3a3a3a" stroke-width="3.33"/>
<text transform="translate(349.5,3382.6) scale(1,1.04)" font-size="41.67" fill="#3f3f3f" text-anchor="middle">350</text>
<line x1="549.11" y1="3323.5" x2="549.11" y2="3338.08" stroke="#3a3a3a" stroke-width="3.33"/>
<text transform="translate(549.11,3382.6) scale(1,1.04)" font-size="41.67" fill="#3f3f3f" text-anchor="middle">375</text>
<line x1="748.72" y1="3323.5" x2="748.72" y2="3338.08" stroke="#3a3a3a" stroke-width="3.33"/>
<text transform="translate(748.72,3382.6) scale(1,1.04)" font-size="41.67" fill="#3f3f3f" text-anchor="middle">400</text>
<line x1="948.34" y1="3323.5" x2="948.34" y2="3338.08" stroke="#3a3a3a" stroke-width="3.33"/>
<text transform="translate(948.34,3382.6) scale(1,1.04)" font-size="41.67" fill="#3f3f3f" text-anchor="middle">425</text>
<line x1="1147.95" y1="3323.5" x2="1147.95" y2="3338.08" stroke="#3a3a3a" stroke-width="3.33"/>
<text transform="translate(1147.95,3382.6) scale(1,1.04)" font-size="41.67" fill="#3f3f3f" text-anchor="middle">450</text>
<line x1="1347.56" y1="3323.5" x2="1347.56" y2="3338.08" stroke="#3a3a3a" stroke-width="3.33"/>
<text transform="translate(1347.56,3382.6) scale(1,1.04)" font-size="41.67" fill="#3f3f3f" text-anchor="middle">475</text>
<line x1="1547.17" y1="3323.5" x2="1547.17" y2="3338.08" stroke="#3a3a3a" stroke-width="3.33"/>
<text transform="translate(1547.17,3382.6) scale(1,1.04)" font-size="41.67" fill="#3f3f3f" text-anchor="middle">500</text>
<line x1="1746.79" y1="3323.5" x2="1746.79" y2="3338.08" stroke="#3a3a3a" stroke-width="3.33"/>
<text transform="translate(1746.79,3382.6) scale(1,1.04)" font-size="41.67" fill="#3f3f3f" text-anchor="middle">525</text>
<line x1="1946.4" y1="3323.5" x2="1946.4" y2="3338.08" stroke="#3a3a3a" stroke-width="3.33"/>
<text transform="translate(1946.4,3382.6) scale(1,1.04)" font-size="41.67" fill="#3f3f3f" text-anchor="middle">550</text>
<line x1="254.62" y1="3287.4" x2="269.2" y2="3287.4" stroke="#3a3a3a" stroke-width="3.33"/>
<text transform="translate(240.04,3302.7) scale(1,1.04)" font-size="41.67" fill="#3f3f3f" text-anchor="end">135000</text>
<line x1="254.62" y1="3065.8" x2="269.2" y2="3065.8" stroke="#3a3a3a" stroke-width="3.33"/>
<text transform="translate(240.04,3081.1) scale(1,1.04)" font-size="41.67" fill="#3f3f3f" text-anchor="end">140000</text>
<line x1="254.62" y1="2844.2" x2="269.2" y2="2844.2" stroke="#3a3a3a" stroke-width="3.33"/>
<text transform="translate(240.04,2859.5) scale(1,1.04)" font-size="41.67" fill="#3f3f3f" text-anchor="end">145000</text>
<line x1="254.62" y1="2622.6" x2="269.2" y2="2622.6" stroke="#3a3a3a" stroke-width="3.33"/>
<text transform="translate(240.04,2637.9) scale(1,1.04)" font-size="41.67" fill="#3f3f3f" text-anchor="end">150000</text>
<line x1="254.62" y1="2401" x2="269.2" y2="2401" stroke="#3a3a3a" stroke-width="3.33"/>
<text transform="translate(240.04,2416.3) scale(1,1.04)" font-size="41.67" fill="#3f3f3f" text-anchor="end">155000</text>
<line x1="254.62" y1="2179.4" x2="269.2" y2="2179.4" stroke="#3a3a3a" stroke-width="3.33"/>
<text transform="translate(240.04,2194.7) scale(1,1.04)" font-size="41.67" fill="#3f3f3f" text-anchor="end">160000</text>
<text transform="translate(1147.85,3436.6) scale(1,1.04)" font-size="41.67" fill="#3f3f3f" text-anchor="middle">Capacity Cap (μ_sum)</text>
<text transform="translate(75.9,2648.4) rotate(-90) scale(1,1.04)" font-size="41.67" fill="#3f3f3f" text-anchor="middle">Service (E1/E2)</text>
<text transform="translate(2206.59,2648.4) rotate(-90) scale(1,1.04)" font-size="41.67" fill="#B0786A" text-anchor="middle">Risk Probability (R1)</text>
<text transform="translate(1147.85,1947.9) scale(1,1.04)" font-size="50" fill="#3f3f3f" text-anchor="middle">Effect of Capacity Cap (μ_sum)</text>
<rect x="290.05" y="3109.6" width="564" height="192" rx="8.33" ry="8.33" fill="#ffffff" fill-opacity="0.8" stroke="#D9DDE2" stroke-width="3.33"/>
<polyline points="306.72,3142.5 390.05,3142.5" fill="none" stroke="#6D8689" stroke-width="7.5" stroke-linejoin="round" stroke-linecap="square"/>
<text transform="translate(423.38,3157.5) scale(1,1.04)" font-size="41.67" fill="#3f3f3f" text-anchor="start">Expected Service (E1)</text>
<polyline points="306.72,3202.5 390.05,3202.5" fill="none" stroke="#B1BBA9" stroke-width="7.5" stroke-linejoin="round" stroke-linecap="square"/>
<text transform="translate(423.38,3217.5) scale(1,1.04)" font-size="41.67" fill="#3f3f3f" text-anchor="start">Quality-weighted (E2)</text>
<polyline points="306.72,3262.5 390.05,3262.5" fill="none" stroke="#B0786A" stroke-width="7.5" stroke-linejoin="round" stroke-linecap="butt" stroke-dasharray="27.75 12"/>
<text transform="translate(423.38,3277.5) scale(1,1.04)" font-size="41.67" fill="#3f3f3f" text-anchor="start">Shortfall Risk (R1)</text>
<line x1="269.2" y1="3270.4" x2="2026.5" y2="3270.4" stroke="#D9DDE2" stroke-width="3.2" stroke-opacity="0.6"/>
<line x1="269.2" y1="3102.4" x2="2026.5" y2="3102.4" stroke="#D9DDE2" stroke-width="3.2" stroke-opacity="0.6"/>
<line x1="269.2" y1="2934.4" x2="2026.5" y2="2934.4" stroke="#D9DDE2" stroke-width="3.2" stroke-opacity="0.6"/>
<line x1="269.2" y1="2766.4" x2="2026.5" y2="2766.4" stroke="#D9DDE2" stroke-width="3.2" stroke-opacity="0.6"/>
<line x1="269.2" y1="2598.4" x2="2026.5" y2="2598.4" stroke="#D9DDE2" stroke-width="3.2" stroke-opacity="0.6"/>
<line x1="269.2" y1="2430.4" x2="2026.5" y2="2430.4" stroke="#D9DDE2" stroke-width="3.2" stroke-opacity="0.6"/>
<line x1="269.2" y1="2262.4" x2="2026.5" y2="2262.4" stroke="#D9DDE2" stroke-width="3.2" stroke-opacity="0.6"/>
<line x1="269.2" y1="2094.4" x2="2026.5" y2="2094.4" stroke="#D9DDE2" stroke-width="3.2" stroke-opacity="0.6"/>
<polyline points="349.5,3262 389.42,3157.2 429.35,3148.1 469.27,3110 509.19,3107.4 549.11,3094.3 589.03,3065.9 628.96,2902.8 668.88,2887.5 708.8,2908.5 748.72,2809.1 788.65,2794.9 828.57,2669 868.49,2547.7 908.41,2513.6 948.34,2421.6 988.26,2365.9 1028.18,2334.7 1068.11,2326.1 1108.03,2321.6 1147.95,2289.8 1187.87,2289.8 1227.8,2215.4 1267.72,2182.7 1307.64,2202.5 1347.56,2163.8 1387.48,2163.8 1427.41,2114.3 1467.33,2067.8 1507.25,2067 1547.17,2069 1587.1,2085.9 1627.02,2085.9 1666.94,2105.7 1706.87,2034.7 1746.79,2033.5 1786.71,2099.3 1826.63,2099.3 1866.55,2099.3 1906.48,2099.3 1946.4,2114.3" fill="none" stroke="#B0786A" stroke-width="7.5" stroke-linejoin="round" stroke-linecap="butt" stroke-dasharray="27.75 12"/>
<rect x="269.2" y="1973.3" width="1757.3" height="1350.2" fill="none" stroke="#D9DDE2" stroke-width="3.33"/>
<line x1="2026.5" y1="3270.4" x2="2041.58" y2="3270.4" stroke="#3a3a3a" stroke-width="3.33"/>
<text transform="translate(2055.66,3285.7) scale(1,1.04)" font-size="41.67" fill="#B0786A" text-anchor="start">0.025</text>
<line x1="2026.5" y1="3102.4" x2="2041.58" y2="3102.4" stroke="#3a3a3a" stroke-width="3.33"/>
<text transform="translate(2055.66,3117.7) scale(1,1.04)" font-size="41.67" fill="#B0786A" text-anchor="start">0.050</text>
<line x1="2026.5" y1="2934.4" x2="2041.58" y2="2934.4" stroke="#3a3a3a" stroke-width="3.33"/>
<text transform="translate(2055.66,2949.7) scale(1,1.04)" font-size="41.67" fill="#B0786A" text-anchor="start">0.075</text>
<line x1="2026.5" y1="2766.4" x2="2041.58" y2="2766.4" stroke="#3a3a3a" stroke-width="3.33"/>
<text transform="translate(2055.66,2781.7) scale(1,1.04)" font-size="41.67" fill="#B0786A" text-anchor="start">0.100</text>
<line x1="2026.5" y1="2598.4" x2="2041.58" y2="2598.4" stroke="#3a3a3a" stroke-width="3.33"/>
<text transform="translate(2055.66,2613.7) scale(1,1.04)" font-size="41.67" fill="#B0786A" text-anchor="start">0.125</text>
<line x1="2026.5" y1="2430.4" x2="2041.58" y2="2430.4" stroke="#3a3a3a" stroke-width="3.33"/>
<text transform="translate(2055.66,2445.7) scale(1,1.04)" font-size="41.67" fill="#B0786A" text-anchor="start">0.150</text>
<line x1="2026.5" y1="2262.4" x2="2041.58" y2="2262.4" stroke="#3a3a3a" stroke-width="3.33"/>
<text transform="translate(2055.66,2277.7) scale(1,1.04)" font-size="41.67" fill="#B0786A" text-anchor="start">0.175</text>
<line x1="2026.5" y1="2094.4" x2="2041.58" y2="2094.4" stroke="#3a3a3a" stroke-width="3.33"/>
<text transform="translate(2055.66,2109.7) scale(1,1.04)" font-size="41.67" fill="#B0786A" text-anchor="start">0.200</text>
<line x1="2766.5" y1="1973.3" x2="2766.5" y2="3323.5" stroke="#D9DDE2" stroke-width="3.2" stroke-opacity="0.6"/>
<line x1="3121.25" y1="1973.3" x2="3121.25" y2="3323.5" stroke="#D9DDE2" stroke-width="3.2" stroke-opacity="0.6"/>
<line x1="3476" y1="1973.3" x2="3476" y2="3323.5" stroke="#D9DDE2" stroke-width="3.2" stroke-opacity="0.6"/>
<line x1="3830.75" y1="1973.3" x2="3830.75" y2="3323.5" stroke="#D9DDE2" stroke-width="3.2" stroke-opacity="0.6"/>
<line x1="4185.5" y1="1973.3" x2="4185.5" y2="3323.5" stroke="#D9DDE2" stroke-width="3.2" stroke-opacity="0.6"/>
<line x1="2508.3" y1="3165.7" x2="4265.5" y2="3165.7" stroke="#D9DDE2" stroke-width="3.2" stroke-opacity="0.6"/>
<line x1="2508.3" y1="2963.28" x2="4265.5" y2="2963.28" stroke="#D9DDE2" stroke-width="3.2" stroke-opacity="0.6"/>
<line x1="2508.3" y1="2760.86" x2="4265.5" y2="2760.86" stroke="#D9DDE2" stroke-width="3.2" stroke-opacity="0.6"/>
<line x1="2508.3" y1="2558.44" x2="4265.5" y2="2558.44" stroke="#D9DDE2" stroke-width="3.2" stroke-opacity="0.6"/>
<line x1="2508.3" y1="2356.02" x2="4265.5" y2="2356.02" stroke="#D9DDE2" stroke-width="3.2" stroke-opacity="0.6"/>
<line x1="2508.3" y1="2153.6" x2="4265.5" y2="2153.6" stroke="#D9DDE2" stroke-width="3.2" stroke-opacity="0.6"/>
<polyline points="2589.12,2921 2606.86,2861.8 2624.6,2843.7 2642.34,2824.2 2660.07,2782 2677.81,2759.6 2695.55,2693 2713.29,2659.1 2731.03,2619 2748.76,2585 2766.5,2560 2784.24,2543 2801.97,2425.7 2819.71,2425.7 2837.45,2399.3 2855.19,2310 2872.93,2310 2890.66,2310 2908.4,2310 2926.14,2264.1 2943.88,2264.1 2961.61,2264.1 2979.35,2264.1 2997.09,2240.5 3014.82,2211.3 3032.56,2211.3 3050.3,2169.5 3068.04,2129.2 3085.78,2129.2 3103.51,2129.2 3121.25,2129.2 3138.99,2063.8 3156.72,2056.2 3174.46,2056.2 3192.2,2049.3 3209.94,2049.3 3227.67,2049.3 3245.41,2049.3 3263.15,2040.9 3280.89,2040.9 3298.62,2040.9 3316.36,2040.9 3334.1,2040.9 3351.84,2040.9 3369.57,2040.9 3387.31,2040.9 3405.05,2034 3422.79,2034 3440.52,2034 3458.26,2034 3476,2034 3493.74,2034 3511.47,2034 3529.21,2034 3546.95,2034 3564.69,2034 3582.43,2034 3600.16,2034 3617.9,2034 3635.64,2034 3653.38,2034 3671.11,2034 3688.85,2034 3706.59,2034 3724.32,2034 3742.06,2034 3759.8,2034 3777.54,2034 3795.28,2034 3813.01,2034 3830.75,2034 3848.49,2034 3866.22,2034 3883.96,2034 3901.7,2034 3919.44,2034 3937.18,2034 3954.91,2034 3972.65,2034 3990.39,2034 4008.12,2034 4025.86,2034 4043.6,2034 4061.34,2034 4079.07,2034 4096.81,2034 4114.55,2034 4132.29,2034 4150.02,2034 4167.76,2034 4185.5,2034" fill="none" stroke="#6D8689" stroke-width="7.5" stroke-linejoin="round" stroke-linecap="square"/>
<polyline points="2589.12,3261.9 2606.86,3255.6 2624.6,3238.3 2642.34,3246.9 2660.07,3225.2 2677.81,3213.4 2695.55,3207.5 2713.29,3196.4 2731.03,3196.4 2748.76,3187.8 2766.5,3167.8 2784.24,3183 2801.97,3155.5 2819.71,3155.5 2837.45,3165.7 2855.19,3150.5 2872.93,3161.2 2890.66,3161.2 2908.4,3161.2 2926.14,3140.7 2943.88,3140.7 2961.61,3140.7 2979.35,3140.7 2997.09,3119 3014.82,3104.4 3032.56,3104.4 3050.3,3100.1 3068.04,3081.3 3085.78,3081.3 3103.51,3081.3 3121.25,3081.3 3138.99,3055.3 3156.72,3048.2 3174.46,3048.2 3192.2,3041 3209.94,3041 3227.67,3041 3245.41,3041 3263.15,3032.6 3280.89,3032.6 3298.62,3032.6 3316.36,3032.6 3334.1,3032.6 3351.84,3032.6 3369.57,3032.6 3387.31,3032.6 3405.05,3025.5 3422.79,3025.5 3440.52,3025.5 3458.26,3025.5 3476,3025.5 3493.74,3025.5 3511.47,3025.5 3529.21,3025.5 3546.95,3025.5 3564.69,3025.5 3582.43,3025.5 3600.16,3025.5 3617.9,3025.5 3635.64,3025.5 3653.38,3025.5 3671.11,3025.5 3688.85,3025.5 3706.59,3025.5 3724.32,3025.5 3742.06,3025.5 3759.8,3025.5 3777.54,3025.5 3795.28,3025.5 3813.01,3025.5 3830.75,3025.5 3848.49,3025.5 3866.22,3025.5 3883.96,3025.5 3901.7,3025.5 3919.44,3025.5 3937.18,3025.5 3954.91,3025.5 3972.65,3025.5 3990.39,3025.5 4008.12,3025.5 4025.86,3025.5 4043.6,3025.5 4061.34,3025.5 4079.07,3025.5 4096.81,3025.5 4114.55,3025.5 4132.29,3025.5 4150.02,3025.5 4167.76,3025.5 4185.5,3025.5" fill="none" stroke="#B1BBA9" stroke-width="7.5" stroke-linejoin="round" stroke-linecap="square"/>
<line x1="3298.62" y1="3323.5" x2="3298.62" y2="1973.3" stroke="#ACA79F" stroke-width="6.25" stroke-dasharray="6.25 10.31"/>
<line x1="2766.5" y1="3323.5" x2="2766.5" y2="3338.08" stroke="#3a3a3a" stroke-width="3.33"/>
<text transform="translate(2766.5,3382.6) scale(1,1.04)" font-size="41.67" fill="#3f3f3f" text-anchor="middle">0.2</text>
<line x1="3121.25" y1="3323.5" x2="3121.25" y2="3338.08" stroke="#3a3a3a" stroke-width="3.33"/>
<text transform="translate(3121.25,3382.6) scale(1,1.04)" font-size="41.67" fill="#3f3f3f" text-anchor="middle">0.4</text>
<line x1="3476" y1="3323.5" x2="3476" y2="3338.08" stroke="#3a3a3a" stroke-width="3.33"/>
<text transform="translate(3476,3382.6) scale(1,1.04)" font-size="41.67" fill="#3f3f3f" text-anchor="middle">0.6</text>
<line x1="3830.75" y1="3323.5" x2="3830.75" y2="3338.08" stroke="#3a3a3a" stroke-width="3.33"/>
<text transform="translate(3830.75,3382.6) scale(1,1.04)" font-size="41.67" fill="#3f3f3f" text-anchor="middle">0.8</text>
<line x1="4185.5" y1="3323.5" x2="4185.5" y2="3338.08" stroke="#3a3a3a" stroke-width="3.33"/>
<text transform="translate(4185.5,3382.6) scale(1,1.04)" font-size="41.67" fill="#3f3f3f" text-anchor="middle">1.0</text>
<line x1="2493.72" y1="3165.7" x2="2508.3" y2="3165.7" stroke="#3a3a3a" stroke-width="3.33"/>
<text transform="translate(2479.14,3181) scale(1,1.04)" font-size="41.67" fill="#3f3f3f" text-anchor="end">135000</text>
<line x1="2493.72" y1="2963.28" x2="2508.3" y2="2963.28" stroke="#3a3a3a" stroke-width="3.33"/>
<text transform="translate(2479.14,2978.58) scale(1,1.04)" font-size="41.67" fill="#3f3f3f" text-anchor="end">140000</text>
<line x1="2493.72" y1="2760.86" x2="2508.3" y2="2760.86" stroke="#3a3a3a" stroke-width="3.33"/>
<text transform="translate(2479.14,2776.16) scale(1,1.04)" font-size="41.67" fill="#3f3f3f" text-anchor="end">145000</text>
<line x1="2493.72" y1="2558.44" x2="2508.3" y2="2558.44" stroke="#3a3a3a" stroke-width="3.33"/>
<text transform="translate(2479.14,2573.74) scale(1,1.04)" font-size="41.67" fill="#3f3f3f" text-anchor="end">150000</text>
<line x1="2493.72" y1="2356.02" x2="2508.3" y2="2356.02" stroke="#3a3a3a" stroke-width="3.33"/>
<text transform="translate(2479.14,2371.32) scale(1,1.04)" font-size="41.67" fill="#3f3f3f" text-anchor="end">155000</text>
<line x1="2493.72" y1="2153.6" x2="2508.3" y2="2153.6" stroke="#3a3a3a" stroke-width="3.33"/>
<text transform="translate(2479.14,2168.9) scale(1,1.04)" font-size="41.67" fill="#3f3f3f" text-anchor="end">160000</text>
<text transform="translate(3386.9,3436.6) scale(1,1.04)" font-size="41.67" fill="#3f3f3f" text-anchor="middle">CV Threshold</text>
<text transform="translate(2315,2648.4) rotate(-90) scale(1,1.04)" font-size="41.67" fill="#3f3f3f" text-anchor="middle">Service (E1/E2)</text>
<text transform="translate(4445.59,2648.4) rotate(-90) scale(1,1.04)" font-size="41.67" fill="#B0786A" text-anchor="middle">Risk Probability (R1)</text>
<text transform="translate(3386.9,1947.9) scale(1,1.04)" font-size="50" fill="#3f3f3f" text-anchor="middle">Effect of CV Threshold</text>
<rect x="3680.7" y="3109.6" width="564" height="192" rx="8.33" ry="8.33" fill="#ffffff" fill-opacity="0.8" stroke="#D9DDE2" stroke-width="3.33"/>
<polyline points="3697.37,3142.5 3780.7,3142.5" fill="none" stroke="#6D8689" stroke-width="7.5" stroke-linejoin="round" stroke-linecap="square"/>
<text transform="translate(3814.03,3157.5) scale(1,1.04)" font-size="41.67" fill="#3f3f3f" text-anchor="start">Expected Service (E1)</text>
<polyline points="3697.37,3202.5 3780.7,3202.5" fill="none" stroke="#B1BBA9" stroke-width="7.5" stroke-linejoin="round" stroke-linecap="square"/>
<text transform="translate(3814.03,3217.5) scale(1,1.04)" font-size="41.67" fill="#3f3f3f" text-anchor="start">Quality-weighted (E2)</text>
<polyline points="3697.37,3262.5 3780.7,3262.5" fill="none" stroke="#B0786A" stroke-width="7.5" stroke-linejoin="round" stroke-linecap="butt" stroke-dasharray="27.75 12"/>
<text transform="translate(3814.03,3277.5) scale(1,1.04)" font-size="41.67" fill="#3f3f3f" text-anchor="start">Shortfall Risk (R1)</text>
<line x1="2508.3" y1="3262.4" x2="4265.5" y2="3262.4" stroke="#D9DDE2" stroke-width="3.2" stroke-opacity="0.6"/>
<line x1="2508.3" y1="3092.84" x2="4265.5" y2="3092.84" stroke="#D9DDE2" stroke-width="3.2" stroke-opacity="0.6"/>
<line x1="2508.3" y1="2923.29" x2="4265.5" y2="2923.29" stroke="#D9DDE2" stroke-width="3.2" stroke-opacity="0.6"/>
<line x1="2508.3" y1="2753.73" x2="4265.5" y2="2753.73" stroke="#D9DDE2" stroke-width="3.2" stroke-opacity="0.6"/>
<line x1="2508.3" y1="2584.17" x2="4265.5" y2="2584.17" stroke="#D9DDE2" stroke-width="3.2" stroke-opacity="0.6"/>
<line x1="2508.3" y1="2414.61" x2="4265.5" y2="2414.61" stroke="#D9DDE2" stroke-width="3.2" stroke-opacity="0.6"/>
<line x1="2508.3" y1="2245.06" x2="4265.5" y2="2245.06" stroke="#D9DDE2" stroke-width="3.2" stroke-opacity="0.6"/>
<line x1="2508.3" y1="2075.5" x2="4265.5" y2="2075.5" stroke="#D9DDE2" stroke-width="3.2" stroke-opacity="0.6"/>
<polyline points="2589.12,3259.6 2606.86,2996.4 2624.6,3061.5 2642.34,2693.9 2660.07,2712.4 2677.81,2712.4 2695.55,2643 2713.29,2705.8 2731.03,2592 2748.76,2490.5 2766.5,2579.7 2784.24,2396.5 2801.97,2217 2819.71,2216.5 2837.45,2083.4 2855.19,2070.7 2872.93,2071.3 2890.66,2071.3 2908.4,2071.3 2926.14,2034 2943.88,2034 2961.61,2034 2979.35,2034 2997.09,2070 3014.82,2106.3 3032.56,2106.3 3050.3,2062.4 3068.04,2074.9 3085.78,2074.9 3103.51,2074.9 3121.25,2074.9 3138.99,2066.5 3156.72,2066.5 3174.46,2066.5 3192.2,2102.7 3209.94,2102.7 3227.67,2102.7 3245.41,2102.7 3263.15,2102.7 3280.89,2102.7 3298.62,2102.7 3316.36,2102.7 3334.1,2102.7 3351.84,2102.7 3369.57,2102.7 3387.31,2102.7 3405.05,2136.1 3422.79,2136.1 3440.52,2136.1 3458.26,2136.1 3476,2136.1 3493.74,2136.1 3511.47,2136.1 3529.21,2136.1 3546.95,2136.1 3564.69,2136.1 3582.43,2136.1 3600.16,2136.1 3617.9,2136.1 3635.64,2136.1 3653.38,2136.1 3671.11,2136.1 3688.85,2136.1 3706.59,2136.1 3724.32,2136.1 3742.06,2136.1 3759.8,2136.1 3777.54,2136.1 3795.28,2136.1 3813.01,2136.1 3830.75,2136.1 3848.49,2136.1 3866.22,2136.1 3883.96,2136.1 3901.7,2136.1 3919.44,2136.1 3937.18,2136.1 3954.91,2136.1 3972.65,2136.1 3990.39,2136.1 4008.12,2136.1 4025.86,2136.1 4043.6,2136.1 4061.34,2136.1 4079.07,2136.1 4096.81,2136.1 4114.55,2136.1 4132.29,2136.1 4150.02,2136.1 4167.76,2136.1 4185.5,2136.1" fill="none" stroke="#B0786A" stroke-width="7.5" stroke-linejoin="round" stroke-linecap="butt" stroke-dasharray="27.75 12"/>
<rect x="2508.3" y="1973.3" width="1757.2" height="1350.2" fill="none" stroke="#D9DDE2" stroke-width="3.33"/>
<line x1="4265.5" y1="3262.4" x2="4280.58" y2="3262.4" stroke="#3a3a3a" stroke-width="3.33"/>
<text transform="translate(4294.66,3277.7) scale(1,1.04)" font-size="41.67" fill="#B0786A" text-anchor="start">0.000</text>
<line x1="4265.5" y1="3092.84" x2="4280.58" y2="3092.84" stroke="#3a3a3a" stroke-width="3.33"/>
<text transform="translate(4294.66,3108.14) scale(1,1.04)" font-size="41.67" fill="#B0786A" text-anchor="start">0.025</text>
<line x1="4265.5" y1="2923.29" x2="4280.58" y2="2923.29" stroke="#3a3a3a" stroke-width="3.33"/>
<text transform="translate(4294.66,2938.59) scale(1,1.04)" font-size="41.67" fill="#B0786A" text-anchor="start">0.050</text>
<line x1="4265.5" y1="2753.73" x2="4280.58" y2="2753.73" stroke="#3a3a3a" stroke-width="3.33"/>
<text transform="translate(4294.66,2769.03) scale(1,1.04)" font-size="41.67" fill="#B0786A" text-anchor="start">0.075</text>
<line x1="4265.5" y1="2584.17" x2="4280.58" y2="2584.17" stroke="#3a3a3a" stroke-width="3.33"/>
<text transform="translate(4294.66,2599.47) scale(1,1.04)" font-size="41.67" fill="#B0786A" text-anchor="start">0.100</text>
<line x1="4265.5" y1="2414.61" x2="4280.58" y2="2414.61" stroke="#3a3a3a" stroke-width="3.33"/>
<text transform="translate(4294.66,2429.91) scale(1,1.04)" font-size="41.67" fill="#B0786A" text-anchor="start">0.125</text>
<line x1="4265.5" y1="2245.06" x2="4280.58" y2="2245.06" stroke="#3a3a3a" stroke-width="3.33"/>
<text transform="translate(4294.66,2260.36) scale(1,1.04)" font-size="41.67" fill="#B0786A" text-anchor="start">0.150</text>
<line x1="4265.5" y1="2075.5" x2="4280.58" y2="2075.5" stroke="#3a3a3a" stroke-width="3.33"/>
<text transform="translate(4294.66,2090.8) scale(1,1.04)" font-size="41.67" fill="#B0786A" text-anchor="start">0.175</text>
</svg></body></html>
